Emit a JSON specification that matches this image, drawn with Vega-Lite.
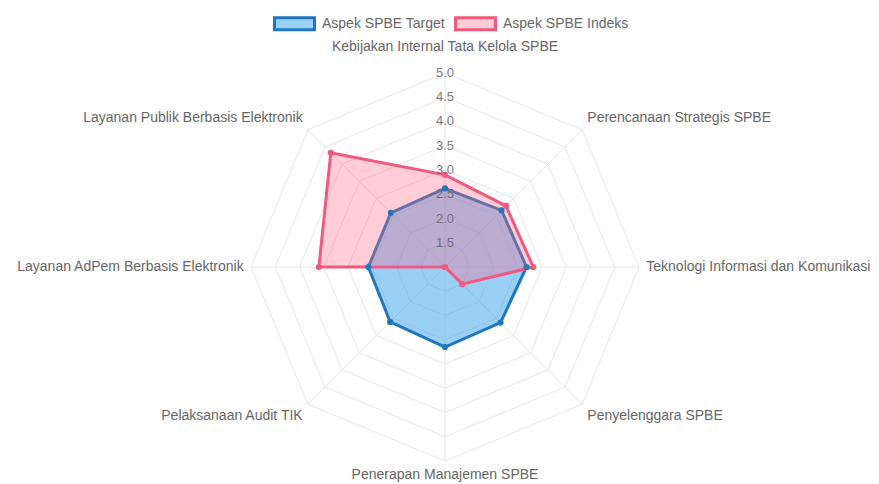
{
  "$schema": "https://vega.github.io/schema/vega-lite/v6.json",
  "width": 879,
  "height": 484,
  "autosize": {"type": "none"},
  "padding": 0,
  "background": "white",
  "config": {"view": {"stroke": null}, "font": "Liberation Sans"},
  "datasets": {
    "scores": [
      {"i": 0, "axis": "Kebijakan Internal Tata Kelola SPBE", "series": "Aspek SPBE Target", "value": 2.62},
      {"i": 1, "axis": "Perencanaan Strategis SPBE", "series": "Aspek SPBE Target", "value": 2.65},
      {"i": 2, "axis": "Teknologi Informasi dan Komunikasi", "series": "Aspek SPBE Target", "value": 2.68},
      {"i": 3, "axis": "Penyelenggara SPBE", "series": "Aspek SPBE Target", "value": 2.62},
      {"i": 4, "axis": "Penerapan Manajemen SPBE", "series": "Aspek SPBE Target", "value": 2.65},
      {"i": 5, "axis": "Pelaksanaan Audit TIK", "series": "Aspek SPBE Target", "value": 2.6},
      {"i": 6, "axis": "Layanan AdPem Berbasis Elektronik", "series": "Aspek SPBE Target", "value": 2.58},
      {"i": 7, "axis": "Layanan Publik Berbasis Elektronik", "series": "Aspek SPBE Target", "value": 2.58},
      {"i": 0, "axis": "Kebijakan Internal Tata Kelola SPBE", "series": "Aspek SPBE Indeks", "value": 2.9},
      {"i": 1, "axis": "Perencanaan Strategis SPBE", "series": "Aspek SPBE Indeks", "value": 2.78},
      {"i": 2, "axis": "Teknologi Informasi dan Komunikasi", "series": "Aspek SPBE Indeks", "value": 2.82},
      {"i": 3, "axis": "Penyelenggara SPBE", "series": "Aspek SPBE Indeks", "value": 1.5},
      {"i": 4, "axis": "Penerapan Manajemen SPBE", "series": "Aspek SPBE Indeks", "value": 1.0},
      {"i": 5, "axis": "Pelaksanaan Audit TIK", "series": "Aspek SPBE Indeks", "value": 1.0},
      {"i": 6, "axis": "Layanan AdPem Berbasis Elektronik", "series": "Aspek SPBE Indeks", "value": 3.6},
      {"i": 7, "axis": "Layanan Publik Berbasis Elektronik", "series": "Aspek SPBE Indeks", "value": 4.33}
    ],
    "axes": [
      {"i": 0, "axis": "Kebijakan Internal Tata Kelola SPBE"},
      {"i": 1, "axis": "Perencanaan Strategis SPBE"},
      {"i": 2, "axis": "Teknologi Informasi dan Komunikasi"},
      {"i": 3, "axis": "Penyelenggara SPBE"},
      {"i": 4, "axis": "Penerapan Manajemen SPBE"},
      {"i": 5, "axis": "Pelaksanaan Audit TIK"},
      {"i": 6, "axis": "Layanan AdPem Berbasis Elektronik"},
      {"i": 7, "axis": "Layanan Publik Berbasis Elektronik"}
    ],
    "levels": [
      {"level": 1.5, "i": [0, 1, 2, 3, 4, 5, 6, 7]},
      {"level": 2.0, "i": [0, 1, 2, 3, 4, 5, 6, 7]},
      {"level": 2.5, "i": [0, 1, 2, 3, 4, 5, 6, 7]},
      {"level": 3.0, "i": [0, 1, 2, 3, 4, 5, 6, 7]},
      {"level": 3.5, "i": [0, 1, 2, 3, 4, 5, 6, 7]},
      {"level": 4.0, "i": [0, 1, 2, 3, 4, 5, 6, 7]},
      {"level": 4.5, "i": [0, 1, 2, 3, 4, 5, 6, 7]},
      {"level": 5.0, "i": [0, 1, 2, 3, 4, 5, 6, 7]}
    ],
    "ticks": [
      {"v": 1.5}, {"v": 2.0}, {"v": 2.5}, {"v": 3.0}, {"v": 3.5}, {"v": 4.0}, {"v": 4.5}, {"v": 5.0}
    ]
  },
  "encoding": {
    "x": {"field": "x", "type": "quantitative", "scale": {"domain": [-9.175, 8.948], "nice": false, "zero": false}, "axis": null},
    "y": {"field": "y", "type": "quantitative", "scale": {"domain": [-4.474, 5.505], "nice": false, "zero": false}, "axis": null}
  },
  "layer": [
    {
      "data": {"name": "levels"},
      "transform": [
        {"flatten": ["i"]},
        {"calculate": "(datum.level - 1) * sin(datum.i * PI / 4)", "as": "x"},
        {"calculate": "(datum.level - 1) * cos(datum.i * PI / 4)", "as": "y"}
      ],
      "mark": {"type": "line", "interpolate": "linear-closed", "stroke": "#e6e6e6", "strokeWidth": 1},
      "encoding": {
        "detail": {"field": "level", "type": "nominal"},
        "order": {"field": "i", "type": "quantitative"}
      }
    },
    {
      "data": {"name": "axes"},
      "transform": [
        {"calculate": "4 * sin(datum.i * PI / 4)", "as": "x"},
        {"calculate": "4 * cos(datum.i * PI / 4)", "as": "y"}
      ],
      "mark": {"type": "rule", "stroke": "#e6e6e6", "strokeWidth": 1},
      "encoding": {
        "x2": {"datum": 0},
        "y2": {"datum": 0}
      }
    },
    {
      "data": {"name": "scores"},
      "transform": [
        {"filter": "datum.series == 'Aspek SPBE Target'"},
        {"calculate": "(datum.value - 1) * sin(datum.i * PI / 4)", "as": "x"},
        {"calculate": "(datum.value - 1) * cos(datum.i * PI / 4)", "as": "y"}
      ],
      "mark": {"type": "line", "interpolate": "linear-closed", "strokeWidth": 3, "strokeJoin": "miter"},
      "encoding": {
        "stroke": {"field": "series", "type": "nominal",
          "scale": {"domain": ["Aspek SPBE Target", "Aspek SPBE Indeks"], "range": ["#2176bd", "#ef5a7e"]},
          "legend": {"orient": "none", "legendX": 273, "legendY": 2, "direction": "horizontal", "title": null,
            "symbolType": "M-1,-0.3H1V0.3H-1Z", "symbolSize": 1600, "symbolStrokeWidth": 3,
            "labelFontSize": 14, "labelColor": "#666666", "labelFont": "Liberation Sans", "columnPadding": 4, "labelOffset": 6}},
        "fill": {"field": "series", "type": "nominal",
          "scale": {"domain": ["Aspek SPBE Target", "Aspek SPBE Indeks"], "range": ["rgba(54,162,235,0.5)", "rgba(255,99,132,0.32)"]},
          "legend": {"orient": "none", "legendX": 273, "legendY": 2, "direction": "horizontal", "title": null,
            "symbolType": "M-1,-0.3H1V0.3H-1Z", "symbolSize": 1600, "symbolStrokeWidth": 3,
            "labelFontSize": 14, "labelColor": "#666666", "labelFont": "Liberation Sans", "columnPadding": 4, "labelOffset": 6}},
        "order": {"field": "i", "type": "quantitative"}
      }
    },
    {
      "data": {"name": "scores"},
      "transform": [
        {"filter": "datum.series == 'Aspek SPBE Indeks'"},
        {"calculate": "(datum.value - 1) * sin(datum.i * PI / 4)", "as": "x"},
        {"calculate": "(datum.value - 1) * cos(datum.i * PI / 4)", "as": "y"}
      ],
      "mark": {"type": "line", "interpolate": "linear-closed", "strokeWidth": 3, "strokeJoin": "miter"},
      "encoding": {
        "stroke": {"field": "series", "type": "nominal"},
        "fill": {"field": "series", "type": "nominal"},
        "order": {"field": "i", "type": "quantitative"}
      }
    },
    {
      "data": {"name": "scores"},
      "transform": [
        {"calculate": "(datum.value - 1) * sin(datum.i * PI / 4)", "as": "x"},
        {"calculate": "(datum.value - 1) * cos(datum.i * PI / 4)", "as": "y"}
      ],
      "mark": {"type": "point", "filled": false, "size": 10, "strokeWidth": 3, "opacity": 1},
      "encoding": {
        "stroke": {"field": "series", "type": "nominal"}
      }
    },
    {
      "data": {"name": "ticks"},
      "transform": [
        {"calculate": "0", "as": "x"},
        {"calculate": "datum.v - 1", "as": "y"},
        {"calculate": "format(datum.v, '.1f')", "as": "label"}
      ],
      "mark": {"type": "text", "fontSize": 13, "color": "#666666", "opacity": 0.85, "align": "center", "baseline": "middle", "font": "Liberation Sans"},
      "encoding": {
        "text": {"field": "label", "type": "nominal"}
      }
    },
    {
      "data": {"name": "axes"},
      "transform": [
        {"calculate": "4.15 * sin(datum.i * PI / 4)", "as": "x"},
        {"calculate": "4.15 * cos(datum.i * PI / 4)", "as": "y"}
      ],
      "mark": {"type": "text", "fontSize": 14, "color": "#666666", "font": "Liberation Sans",
        "align": {"expr": "datum.i == 0 || datum.i == 4 ? 'center' : (datum.i < 4 ? 'left' : 'right')"},
        "baseline": {"expr": "datum.i == 2 || datum.i == 6 ? 'middle' : ((datum.i <= 1 || datum.i == 7) ? 'bottom' : 'top')"},
        "dy": {"expr": "datum.i == 0 ? -12 : 0"}},
      "encoding": {
        "text": {"field": "axis", "type": "nominal"}
      }
    }
  ]
}
